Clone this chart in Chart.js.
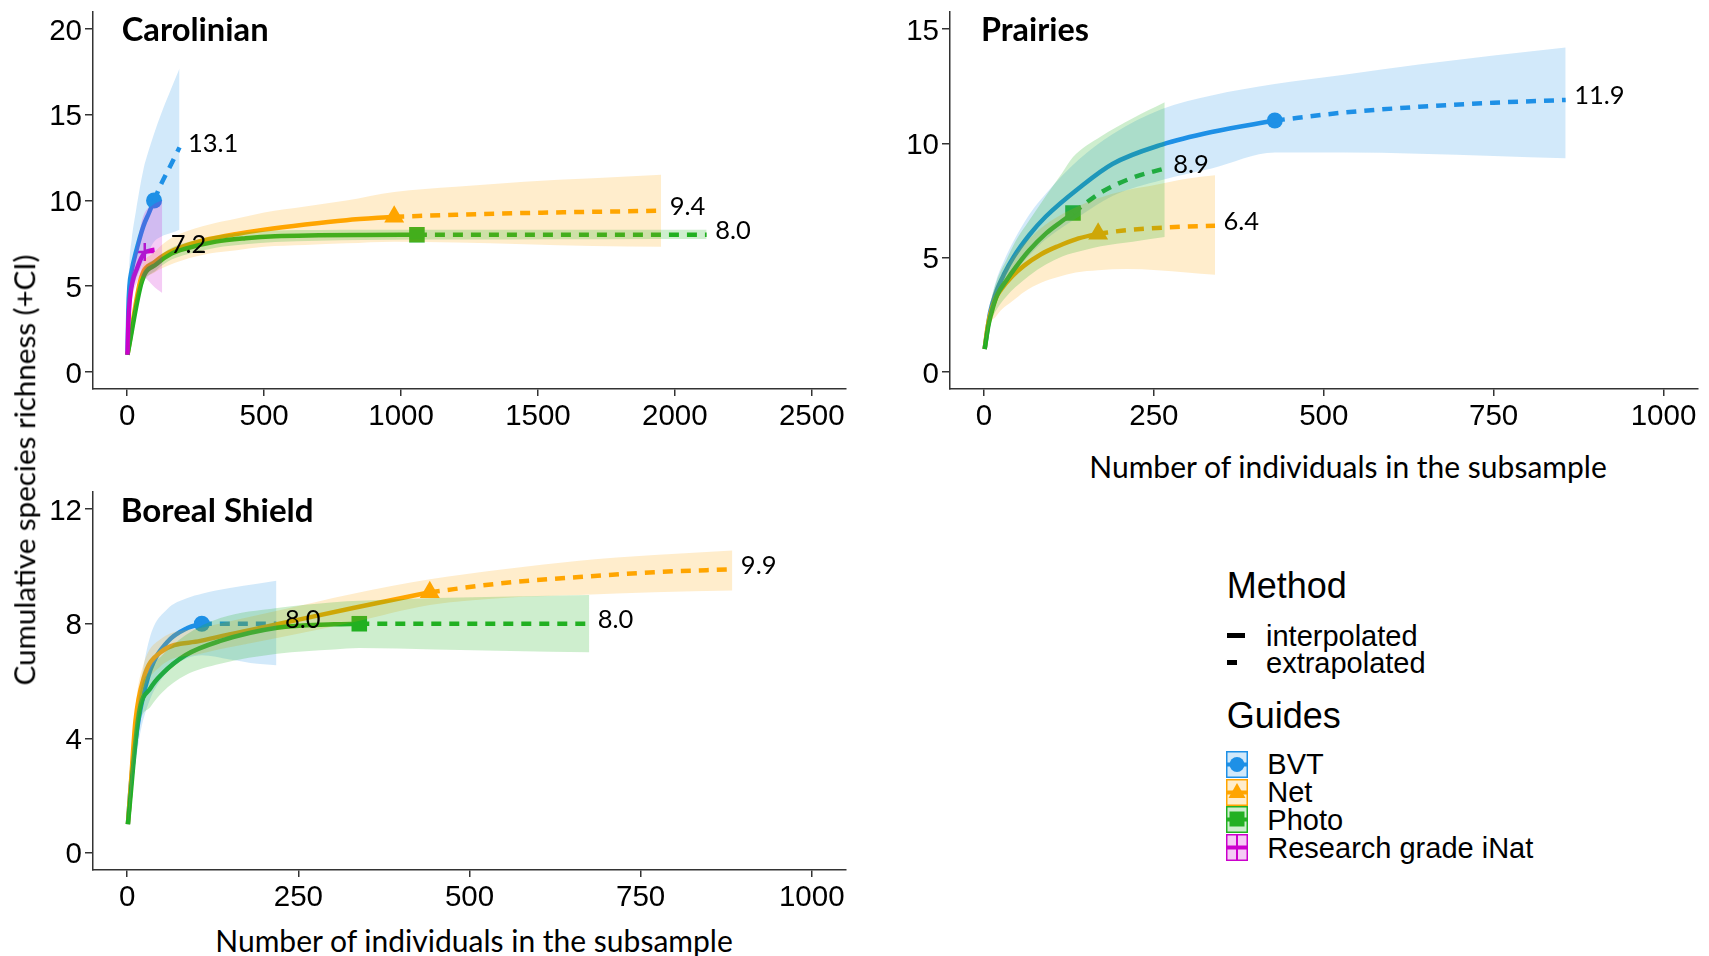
<!DOCTYPE html>
<html>
<head>
<meta charset="utf-8">
<script src="https://cdn.jsdelivr.net/npm/chart.js@4.4.1/dist/chart.umd.min.js"></script>
<style>
  html, body { margin: 0; padding: 0; background: #fff; }
  #page { position: relative; width: 1709px; height: 956px; overflow: hidden; background: #fff; }
  canvas { position: absolute; }
  .t { position: absolute; white-space: nowrap; line-height: 1; color: #000; transform: translateY(-50%); }
  .tc { transform: translate(-50%, -50%); }
  .panel-title { font-family: Lato, sans-serif; font-weight: 700; }
  .axis-title { font-family: Lato, sans-serif; font-weight: 400; }
  .lg { font-family: "Liberation Sans", Arial, sans-serif; }
  .key { position: absolute; }
</style>
</head>
<body>
<div id="page">
  <canvas id="cCar" width="860" height="434" style="left:0;top:0"></canvas>
  <canvas id="cPra" width="849" height="434" style="left:860px;top:0"></canvas>
  <canvas id="cBor" width="860" height="435" style="left:0;top:480px"></canvas>

  <div class="t panel-title fit" data-w="147" style="left:121.7px;top:28.5px">Carolinian</div>
  <div class="t panel-title fit" data-w="108" style="left:981px;top:28.8px">Prairies</div>
  <div class="t panel-title fit" data-w="193" style="left:120.7px;top:509.7px">Boreal Shield</div>

  <div class="t axis-title fit tc" data-w="431" style="left:24px;top:469.5px;transform:translate(-50%,-50%) rotate(-90deg)">Cumulative species richness (+CI)</div>
  <div class="t axis-title fit tc" data-w="519" style="left:1348px;top:465.5px">Number of individuals in the subsample</div>
  <div class="t axis-title fit tc" data-w="519" style="left:474px;top:939.5px">Number of individuals in the subsample</div>

  <div id="legend"></div>
</div>

<script>
// ---------------- axis ticks ----------------
const carXTicks = [0, 500, 1000, 1500, 2000, 2500];
const carYTicks = [0, 5, 10, 15, 20];
const praXTicks = [0, 250, 500, 750, 1000];
const praYTicks = [0, 5, 10, 15];
const borXTicks = [0, 250, 500, 750, 1000];
const borYTicks = [0, 4, 8, 12];

// ---------------- Carolinian ----------------
// N = individuals in subsample, S = estimated richness, Lo/Hi = 95% CI
const carBvtN  = [1, 4, 8, 16, 32, 59, 80, 98, 125, 160, 191];
const carBvtS  = [1, 3.6, 5.0, 5.9, 7.0, 8.5, 9.3, 10.0, 11.0, 12.1, 13.1];
const carBvtLo = [1, 2.8, 4.0, 4.6, 5.4, 6.4, 7.1, 7.6, 7.9, 8.1, 8.3];
const carBvtHi = [1, 4.6, 6.4, 7.7, 9.4, 11.8, 13.0, 13.9, 15.1, 16.5, 17.7];
const carBvtObs = 98;

const carNetN  = [1, 50, 100, 150, 200, 300, 400, 500, 650, 800, 975, 1200, 1450, 1700, 1950];
const carNetS  = [1, 5.45, 6.4, 6.95, 7.3, 7.75, 8.05, 8.3, 8.6, 8.85, 9.05, 9.17, 9.27, 9.34, 9.4];
const carNetLo = [1, 5.0, 5.8, 6.2, 6.5, 6.9, 7.1, 7.3, 7.4, 7.5, 7.6, 7.55, 7.45, 7.35, 7.3];
const carNetHi = [1, 5.9, 7.0, 7.7, 8.1, 8.6, 8.95, 9.3, 9.65, 10.0, 10.5, 10.8, 11.1, 11.3, 11.5];
const carNetObs = 975;

const carPhoN  = [1, 54, 108, 162, 216, 324, 432, 540, 700, 860, 1058, 1400, 1750, 2116];
const carPhoS  = [1, 5.3, 6.3, 6.9, 7.2, 7.6, 7.8, 7.92, 7.97, 7.99, 8.0, 8.0, 8.0, 8.0];
const carPhoLo = [1, 4.95, 5.95, 6.55, 6.85, 7.25, 7.45, 7.58, 7.65, 7.69, 7.72, 7.73, 7.74, 7.75];
const carPhoHi = [1, 5.65, 6.65, 7.25, 7.55, 7.95, 8.15, 8.25, 8.28, 8.29, 8.29, 8.3, 8.3, 8.3];
const carPhoObs = 1058;

const carInatN  = [1, 4, 10, 20, 35, 50, 64, 90, 110, 128];
const carInatS  = [1, 2.8, 4.3, 5.3, 6.0, 6.6, 7.0, 7.1, 7.15, 7.2];
const carInatLo = [1, 2.2, 3.5, 4.5, 5.2, 5.6, 5.5, 5.1, 4.8, 4.6];
const carInatHi = [1, 3.4, 5.1, 6.3, 7.4, 8.6, 9.3, 9.7, 9.9, 10.0];
const carInatObs = 64;

// ---------------- Prairies ----------------
const praBvtN  = [1, 9, 18, 30, 43, 67, 91, 140, 189, 262, 335, 428, 530, 640, 750, 856];
const praBvtS  = [1, 2.6, 3.5, 4.3, 5.0, 6.0, 6.8, 8.05, 9.1, 9.95, 10.5, 11.0, 11.35, 11.6, 11.78, 11.9];
const praBvtLo = [1, 2.2, 3.1, 3.7, 4.3, 5.1, 5.8, 6.8, 7.7, 8.4, 8.9, 9.6, 9.6, 9.55, 9.45, 9.35];
const praBvtHi = [1, 2.9, 4.0, 4.9, 5.7, 6.9, 7.8, 9.3, 10.4, 11.5, 12.1, 12.6, 13.0, 13.45, 13.85, 14.2];
const praBvtObs = 428;

const praNetN  = [1, 5, 9, 17, 25, 42, 59, 84, 109, 135, 168, 210, 255, 298, 340];
const praNetS  = [1, 1.9, 2.5, 3.2, 3.6, 4.2, 4.65, 5.15, 5.5, 5.8, 6.05, 6.2, 6.3, 6.36, 6.4];
const praNetLo = [1, 1.6, 2.1, 2.4, 2.7, 3.1, 3.5, 3.9, 4.15, 4.35, 4.45, 4.5, 4.45, 4.35, 4.25];
const praNetHi = [1, 2.3, 3.0, 3.7, 4.2, 5.0, 5.6, 6.3, 6.8, 7.2, 7.6, 7.95, 8.2, 8.45, 8.6];
const praNetObs = 168;

const praPhoN  = [1, 7, 13, 20, 33, 46, 66, 91, 115, 131, 172, 219, 266];
const praPhoS  = [1, 2.1, 2.8, 3.4, 4.0, 4.55, 5.3, 6.05, 6.6, 6.95, 7.85, 8.5, 8.9];
const praPhoLo = [1, 1.8, 2.4, 2.8, 3.3, 3.7, 4.2, 4.7, 5.05, 5.2, 5.5, 5.7, 5.9];
const praPhoHi = [1, 2.5, 3.4, 4.1, 4.9, 5.7, 6.6, 7.7, 8.7, 9.4, 10.3, 11.1, 11.8];
const praPhoObs = 131;

// ---------------- Boreal Shield ----------------
const borBvtN  = [1, 5, 10, 15, 20, 34, 58, 88, 109, 150, 190, 218];
const borBvtS  = [1, 2.3, 3.5, 4.4, 5.1, 6.4, 7.35, 7.85, 8.0, 8.0, 8.0, 8.0];
const borBvtLo = [1, 1.8, 2.8, 3.6, 4.3, 5.4, 6.3, 6.8, 6.9, 6.75, 6.6, 6.55];
const borBvtHi = [1, 2.8, 4.2, 5.2, 6.0, 7.6, 8.5, 8.9, 9.05, 9.25, 9.4, 9.5];
const borBvtObs = 109;

const borNetN  = [1, 5, 12, 24, 48, 107, 219, 330, 442, 550, 660, 770, 884];
const borNetS  = [1, 2.3, 4.6, 6.1, 6.99, 7.4, 7.98, 8.55, 9.1, 9.42, 9.63, 9.8, 9.9];
const borNetLo = [1, 1.9, 4.1, 5.6, 6.5, 6.95, 7.5, 8.05, 8.65, 8.9, 9.0, 9.1, 9.16];
const borNetHi = [1, 2.7, 5.1, 6.6, 7.45, 7.85, 8.45, 9.05, 9.55, 9.9, 10.2, 10.4, 10.56];
const borNetObs = 442;

const borPhoN  = [1, 17, 34, 51, 85, 136, 219, 302, 339, 450, 560, 675];
const borPhoS  = [1, 4.84, 5.75, 6.25, 6.9, 7.4, 7.86, 7.98, 8.0, 8.0, 8.0, 8.0];
const borPhoLo = [1, 4.4, 5.1, 5.6, 6.2, 6.6, 6.95, 7.1, 7.15, 7.1, 7.05, 7.0];
const borPhoHi = [1, 5.3, 6.4, 6.9, 7.6, 8.2, 8.55, 8.75, 8.8, 8.9, 8.95, 9.0];
const borPhoObs = 339;

// ---------------- method styling ----------------
const methodLabels = ['BVT', 'Net', 'Photo', 'Research grade iNat'];
const methodStyle = {
  'BVT':                { rank: 0, color: '#1E90E6', fill: 'rgba(30,144,230,0.2)',  shape: 'circle',   r: 8 },
  'Net':                { rank: 1, color: '#FFA500', fill: 'rgba(255,165,0,0.2)',   shape: 'triangle', r: 11.5 },
  'Photo':              { rank: 2, color: '#22B022', fill: 'rgba(34,176,34,0.22)',  shape: 'rect',     r: 11 },
  'Research grade iNat':{ rank: 3, color: '#CC00CC', fill: 'rgba(204,0,204,0.2)',   shape: 'cross',    r: 9 }
};

// Build the ribbon, interpolated/extrapolated lines and the reference-sample marker for one method
function methodDatasets(label, N, S, Lo, Hi, obs) {
  const st = methodStyle[label];
  const k = st.rank;
  const pts = N.map((n, i) => ({ x: n, y: S[i] }));
  const interp = pts.filter(p => p.x <= obs);
  const extrap = pts.filter(p => p.x >= obs);
  const ref = pts.find(p => p.x === obs);
  const base = { type: 'line', pointRadius: 0, cubicInterpolationMode: 'monotone', borderCapStyle: 'butt' };
  return [
    Object.assign({}, base, { label: label + ' lo', data: N.map((n, i) => ({ x: n, y: Lo[i] })),
      borderColor: 'rgba(0,0,0,0)', borderWidth: 0, fill: false, order: 10 - k }),
    Object.assign({}, base, { label: label + ' hi', data: N.map((n, i) => ({ x: n, y: Hi[i] })),
      borderColor: 'rgba(0,0,0,0)', borderWidth: 0, fill: '-1', backgroundColor: st.fill, order: 10 - k }),
    Object.assign({}, base, { label: label + ' interpolated', data: interp, borderColor: st.color,
      borderWidth: 4.5, fill: false, order: 20 - k }),
    Object.assign({}, base, { label: label + ' extrapolated', data: extrap, borderColor: st.color,
      borderWidth: 4.5, borderDash: [10, 8], fill: false, order: 20 - k, endLabel: true }),
    { type: 'line', label: label + ' reference', data: [ref], showLine: false, order: 30 - k,
      pointStyle: st.shape, pointRadius: st.r, pointBackgroundColor: st.color, pointBorderColor: st.color,
      pointBorderWidth: st.shape === 'cross' ? 2.5 : 0 }
  ];
}

// Value label at the end of each extrapolated curve
const endLabels = {
  id: 'endLabels',
  afterDatasetsDraw(chart) {
    const ctx = chart.ctx;
    const xs = chart.scales.x, ys = chart.scales.y;
    chart.data.datasets.forEach(ds => {
      if (!ds.endLabel) return;
      const last = ds.data[ds.data.length - 1];
      ctx.save();
      ctx.font = '25.5px Lato, sans-serif';
      ctx.fillStyle = '#000';
      ctx.textAlign = 'left';
      ctx.textBaseline = 'middle';
      ctx.fillText(last.y.toFixed(1), xs.getPixelForValue(last.x) + 8.5, ys.getPixelForValue(last.y) - 4);
      ctx.restore();
    });
  }
};

function axis(kind, min, max, ticks, size) {
  return {
    type: 'linear', min: min, max: max,
    afterBuildTicks: s => { s.ticks = ticks.map(v => ({ value: v })); },
    afterFit: s => {
      if (kind === 'x') s.height = size; else s.width = size;
      s.paddingLeft = s.paddingRight = s.paddingTop = s.paddingBottom = 0;
    },
    grid: { display: true, drawOnChartArea: false, drawTicks: true,
            tickLength: kind === 'x' ? 7 : 8, color: '#333', lineWidth: 1.5 },
    border: { display: true, color: '#333', width: 1.5 },
    ticks: { color: '#000', font: { family: '"Liberation Sans", Arial, sans-serif', size: 29.5 },
             padding: kind === 'x' ? 3 : 3, labelOffset: kind === 'x' ? 0 : 2.5,
             maxRotation: 0, autoSkip: false, callback: v => String(v) }
  };
}

function makePanel(id, datasets, xr, xt, yr, yt, yWidth, padRight) {
  return new Chart(document.getElementById(id), {
    data: { datasets: datasets },
    options: {
      responsive: false, animation: false, devicePixelRatio: 1, events: [],
      layout: { padding: { top: 12, right: padRight, bottom: 0, left: 0 } },
      scales: {
        x: axis('x', xr[0], xr[1], xt, 45),
        y: axis('y', yr[0], yr[1], yt, yWidth)
      },
      plugins: { legend: { display: false }, tooltip: { enabled: false },
                 filler: { drawTime: 'beforeDatasetDraw' } }
    },
    plugins: [endLabels]
  });
}

// Fit the Lato titles to their measured widths
const mctx = document.createElement('canvas').getContext('2d');
document.querySelectorAll('.fit').forEach(el => {
  const cs = getComputedStyle(el);
  mctx.font = cs.fontWeight + ' 100px ' + cs.fontFamily;
  const w = mctx.measureText(el.textContent).width;
  el.style.fontSize = (100 * parseFloat(el.dataset.w) / w).toFixed(2) + 'px';
});

makePanel('cCar', [].concat(
  methodDatasets('BVT', carBvtN, carBvtS, carBvtLo, carBvtHi, carBvtObs),
  methodDatasets('Net', carNetN, carNetS, carNetLo, carNetHi, carNetObs),
  methodDatasets('Photo', carPhoN, carPhoS, carPhoLo, carPhoHi, carPhoObs),
  methodDatasets('Research grade iNat', carInatN, carInatS, carInatLo, carInatHi, carInatObs)
), [-125, 2625], carXTicks, [-1, 21], carYTicks, 93, 14);

makePanel('cPra', [].concat(
  methodDatasets('BVT', praBvtN, praBvtS, praBvtLo, praBvtHi, praBvtObs),
  methodDatasets('Net', praNetN, praNetS, praNetLo, praNetHi, praNetObs),
  methodDatasets('Photo', praPhoN, praPhoS, praPhoLo, praPhoHi, praPhoObs)
), [-50, 1050], praXTicks, [-0.75, 15.75], praYTicks, 90, 7);

makePanel('cBor', [].concat(
  methodDatasets('BVT', borBvtN, borBvtS, borBvtLo, borBvtHi, borBvtObs),
  methodDatasets('Net', borNetN, borNetS, borNetLo, borNetHi, borNetObs),
  methodDatasets('Photo', borPhoN, borPhoS, borPhoLo, borPhoHi, borPhoObs)
), [-50, 1050], borXTicks, [-0.6, 12.6], borYTicks, 93, 14);

// ---------------- legend ----------------
function keySvg(st) {
  let shape = '';
  if (st.shape === 'circle') shape = `<circle cx="11" cy="13.5" r="7.5" fill="${st.color}"/>`;
  else if (st.shape === 'triangle') shape = `<polygon points="11,4 19.5,19 2.5,19" fill="${st.color}"/>`;
  else if (st.shape === 'rect') shape = `<rect x="3.5" y="5.5" width="15" height="15" fill="${st.color}"/>`;
  else shape = `<line x1="11" y1="1" x2="11" y2="26" stroke="${st.color}" stroke-width="2"/>`;
  return `<svg width="22" height="27" viewBox="0 0 22 27">
    <rect x="0.75" y="0.75" width="20.5" height="25.5" fill="${st.fill}" stroke="${st.color}" stroke-width="1.5"/>
    <line x1="0.75" y1="13.5" x2="21.25" y2="13.5" stroke="${st.color}" stroke-width="4"/>
    ${shape}</svg>`;
}

const lg = document.getElementById('legend');
let html = '';
html += `<div class="t lg" style="left:1226.7px;top:585.5px;font-size:36px">Method</div>`;
html += `<div class="key" style="left:1226.7px;top:632.5px;width:18.3px;height:5px;background:#000"></div>`;
html += `<div class="t lg" style="left:1266px;top:635.5px;font-size:29px">interpolated</div>`;
html += `<div class="key" style="left:1226.7px;top:660.2px;width:10px;height:5px;background:#000"></div>`;
html += `<div class="t lg" style="left:1266px;top:663.3px;font-size:29px">extrapolated</div>`;
html += `<div class="t lg" style="left:1226.7px;top:715.5px;font-size:36px">Guides</div>`;
methodLabels.forEach((lab, i) => {
  const top = 750.7 + i * 27.8;
  html += `<div class="key" style="left:1225.7px;top:${top}px">${keySvg(methodStyle[lab])}</div>`;
  html += `<div class="t lg" style="left:1267.3px;top:${top + 13.5}px;font-size:29px">${lab}</div>`;
});
lg.innerHTML = html;
</script>
</body>
</html>
